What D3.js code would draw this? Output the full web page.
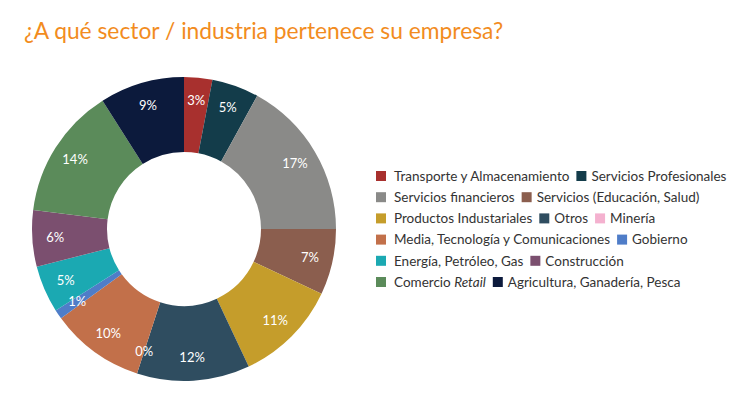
<!DOCTYPE html>
<html><head><meta charset="utf-8">
<script src="https://cdn.jsdelivr.net/npm/d3@7"></script>
<style>body{margin:0;background:#fff;}svg{display:block;font-family:Lato,sans-serif;}</style>
</head><body>
<svg id="c" width="756" height="410"></svg>
<script>
const categories = ["Transporte y Almacenamiento","Servicios Profesionales","Servicios financieros","Servicios (Educación, Salud)","Productos Industariales","Otros","Minería","Media, Tecnología y Comunicaciones","Gobierno","Energía, Petróleo, Gas","Construcción","Comercio Retail","Agricultura, Ganadería, Pesca"];
const values = [3,5,17,7,11,12,0,10,1,5,6,14,9];
const colors = ["#a8302e","#133c4a","#8a8a88","#8b5e4e","#c59d2b","#2f4d60","#f4b1cf","#c2704a","#4f7dc8","#1ba9b2","#7b4f6f","#5b8b5a","#0c1a3c"];
const legendRows = [[0,1],[2,3],[4,5,6],[7,8],[9,10],[11,12]];

const svg = d3.select("#c");
svg.append("text").attr("x",24).attr("y",39).attr("fill","#f28c1e")
  .attr("font-size",22.8).text("¿A qué sector / industria pertenece su empresa?");

const cx=184, cy=229, R=152, r=77, rl=129;
const pie = d3.pie().sort(null).value(d=>d)(values);
const arc = d3.arc().innerRadius(r).outerRadius(R);
const labelArc = d3.arc().innerRadius(rl).outerRadius(rl);
const g = svg.append("g").attr("transform",`translate(${cx},${cy})`);
g.selectAll("path").data(pie).join("path").attr("d",arc).attr("fill",(d,i)=>colors[i]);
g.selectAll("text").data(pie).join("text")
  .attr("transform",d=>`translate(${labelArc.centroid(d)})`)
  .attr("text-anchor","middle").attr("dy","0.35em")
  .attr("fill","#fff").attr("font-size",13)
  .text(d=>Math.round(d.data)+"%");

const lg = svg.append("g");
const rowY0 = 176, rowH = 21.2, x0 = 376;
legendRows.forEach((row,ri)=>{
  let x = x0;
  const y = rowY0 + ri*rowH;
  row.forEach((idx,k)=>{
    lg.append("rect").attr("x",x).attr("y",y-5).attr("width",10).attr("height",10).attr("fill",colors[idx]);
    const tx = x + (k===0?18:15);
    const t = lg.append("text").attr("x",tx).attr("y",y).attr("dy","0.35em")
      .attr("font-size",13.5).attr("fill","#333");
    const name = categories[idx];
    if (name.endsWith(" Retail")) {
      t.append("tspan").text(name.slice(0,-6));
      t.append("tspan").attr("font-style","italic").text("Retail");
    } else t.text(name);
    x = tx + t.node().getComputedTextLength() + 7;
  });
});
</script>
</body></html>
